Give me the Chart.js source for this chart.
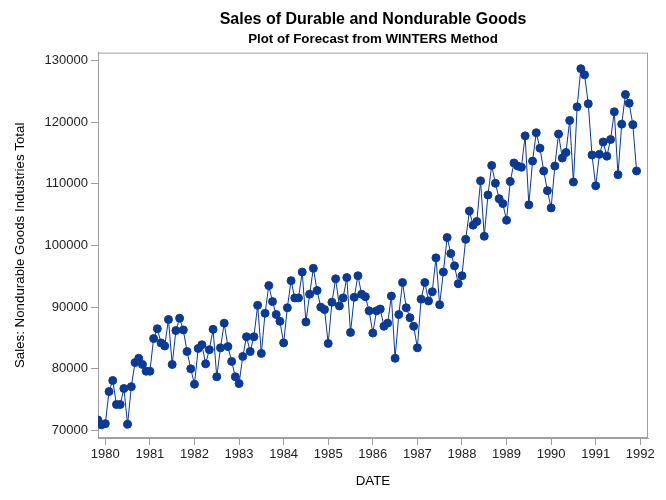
<!DOCTYPE html>
<html>
<head>
<meta charset="utf-8">
<script src="https://cdn.jsdelivr.net/npm/chart.js@4.4.1/dist/chart.umd.min.js"></script>
<style>
  body { margin: 0; background: #fff; }
</style>
</head>
<body>
<canvas id="myChart" width="666" height="500"></canvas>
<script>
// monthly sales, Nov 1979 .. Dec 1991
const firstYear = 1979;
const firstMonth = 11;
const sales = [
  71700, 70900,
  71100, 76300, 78100, 74200, 74200, 76800, 71000, 77100, 81000, 81700, 80700, 79600,
  79600, 84900, 86500, 84200, 83700, 88000, 80700, 86200, 88200, 86300, 82800, 80000,
  77500, 83300, 83900, 80800, 83100, 86400, 78700, 83400, 87400, 83600, 81200, 78700,
  77600, 82000, 85200, 82800, 85200, 90300, 82500, 89000, 93500, 90900, 88800, 87700,
  84200, 89900, 94300, 91500, 91500, 95700, 87600, 92100, 96300, 92700, 90000, 89600,
  84100, 90800, 94600, 90200, 91500, 94800, 85900, 91600, 95100, 92100, 91700, 89400,
  85800, 89400, 89700, 86900, 87400, 91800, 81700, 88800, 94000, 89900, 88300, 86900,
  83400, 91300, 94000, 91000, 92500, 98000, 90400, 95700, 101300, 98700, 96700, 93800,
  95100, 101000, 105600, 103300, 103900, 110500, 101500, 108200, 113000, 110100, 107600, 106800,
  104100, 110400, 113400, 112900, 112700, 117800, 106600, 113700, 118300, 115800, 112100, 108900,
  106100, 112900, 118100, 114200, 115100, 120300, 110300, 122500, 128700, 127700, 123000, 114700,
  109700, 114800, 116800, 114500, 117200, 121700, 111500, 119700, 124500, 123100, 119600, 112100
];
const xTicks = [1980, 1981, 1982, 1983, 1984, 1985, 1986, 1987, 1988, 1989, 1990, 1991, 1992];
const yTicks = [70000, 80000, 90000, 100000, 110000, 120000, 130000];

const points = sales.map((v, i) => ({ x: firstYear + (firstMonth - 1 + i) / 12, y: v }));

const blue = '#0a3a97';
const axisGray = '#a0a0a0';
const fontFamily = "'Liberation Sans', Arial, sans-serif";

// gray box round the plot area
const frame = {
  id: 'frame',
  beforeDatasetsDraw(chart) {
    const { ctx, chartArea: a } = chart;
    ctx.save();
    ctx.strokeStyle = axisGray;
    ctx.lineWidth = 1;
    ctx.strokeRect(a.left + 0.5, a.top + 0.5, a.width - 1, a.height - 1);
    ctx.restore();
  },
};

const config = {
  type: 'line',
  data: {
    datasets: [
      {
        data: points,
        borderColor: blue,
        borderWidth: 1,
        backgroundColor: blue,
        pointBackgroundColor: blue,
        pointBorderColor: blue,
        pointBorderWidth: 1,
        pointRadius: 4,
        tension: 0,
      },
    ],
  },
  options: {
    responsive: false,
    animation: false,
    devicePixelRatio: 1,
    layout: { padding: { left: 0, right: 18, top: 0, bottom: 0 } },
    scales: {
      x: {
        type: 'linear',
        min: 1979.836,
        max: 1992.173,
        afterBuildTicks: (scale) => { scale.ticks = xTicks.map(v => ({ value: v })); },
        afterFit: (scale) => { scale.height = 62; },
        border: { display: true, color: axisGray },
        grid: { drawOnChartArea: false, drawTicks: true, tickLength: 7, color: axisGray },
        ticks: {
          color: '#222',
          padding: 2,
          maxRotation: 0,
          autoSkip: false,
          font: { family: fontFamily, size: 13 },
          callback: (v) => String(v),
        },
        title: {
          display: true,
          text: 'DATE',
          color: '#000',
          padding: { top: 0, bottom: 10.5 },
          font: { family: fontFamily, size: 13.3 },
        },
      },
      y: {
        min: 68768,
        max: 131297,
        afterBuildTicks: (scale) => { scale.ticks = yTicks.map(v => ({ value: v })); },
        afterFit: (scale) => { scale.width = 98; },
        border: { display: true, color: axisGray },
        grid: { drawOnChartArea: false, drawTicks: true, tickLength: 7, color: axisGray },
        ticks: {
          color: '#222',
          padding: 3,
          font: { family: fontFamily, size: 13 },
          callback: (v) => String(v),
        },
        title: {
          display: true,
          text: 'Sales: Nondurable Goods Industries Total',
          color: '#000',
          padding: { top: 12, bottom: 0 },
          font: { family: fontFamily, size: 13.3 },
        },
      },
    },
    plugins: {
      legend: { display: false },
      tooltip: { enabled: false },
      title: {
        display: true,
        fullSize: false,
        text: 'Sales of Durable and Nondurable Goods',
        color: '#000',
        padding: { top: 10, bottom: 2 },
        font: { family: fontFamily, size: 16, weight: 'bold' },
      },
      subtitle: {
        display: true,
        fullSize: false,
        text: 'Plot of Forecast from WINTERS Method',
        color: '#000',
        padding: { top: 0, bottom: 5.5 },
        font: { family: fontFamily, size: 13.3, weight: 'bold' },
      },
    },
  },
  plugins: [frame],
};

const myChart = new Chart(document.getElementById('myChart'), config);
</script>
</body>
</html>
